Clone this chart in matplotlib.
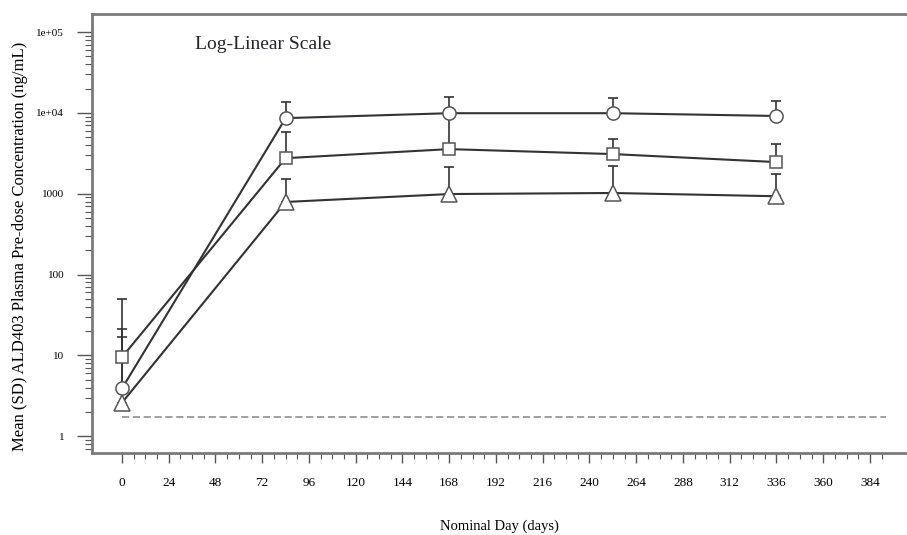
import numpy as np
import matplotlib.pyplot as plt
from matplotlib.ticker import FixedLocator, LogLocator, NullFormatter

plt.rcParams['font.family'] = ['Liberation Serif', 'DejaVu Serif']

# nominal days
days = np.array([0, 84, 168, 252, 336])

# mean concentrations (ng/mL) and upper SD limits
circle_mean = np.array([3.9, 8600, 9900, 9900, 9150])
circle_upper = np.array([21, 13600, 15700, 15200, 14100])
square_mean = np.array([9.5, 2750, 3560, 3090, 2460])
square_upper = np.array([50, 5800, 9300, 4760, 4100])
triangle_mean = np.array([2.6, 790, 990, 1020, 930])
triangle_upper = np.array([16.7, 1520, 2140, 2200, 1740])

lloq = 1.75
lloq_days = [0, 392]

ytick_vals = [1, 10, 100, 1000, 1e4, 1e5]
ytick_labels = ['1', '10', '100', '1000', '1e+04', '1e+05']
xtick_vals = np.arange(0, 385, 24)

fig = plt.figure(figsize=(9.07, 5.35), dpi=100)
ax = fig.add_axes([92 / 907, 82 / 535, 815 / 907, 439 / 535])

line_col = '#333333'
series = [
    (circle_mean, circle_upper, 'o', 9.5),
    (square_mean, square_upper, 's', 8.5),
    (triangle_mean, triangle_upper, '^', 11),
]
for mean, upper, mk, ms in series:
    ax.errorbar(days, mean, yerr=[np.zeros_like(mean), upper - mean],
                fmt='-', color=line_col, lw=1.5, elinewidth=1.2,
                capsize=3.5, capthick=1.2, zorder=2)
    ax.plot(days, mean, linestyle='none', marker=mk, ms=ms,
            mfc='white', mec='#555555', mew=1.1, zorder=3)

ax.plot(lloq_days, [lloq, lloq], linestyle=(0, (4, 2)), color='#999999', lw=1.3, zorder=1)

ax.set_yscale('log')
ax.set_xlim(-15.4, 403)
ax.set_ylim(0.62, 1.67e5)

ax.yaxis.set_major_locator(FixedLocator(ytick_vals))
ax.set_yticklabels(ytick_labels)
ax.yaxis.set_minor_locator(LogLocator(base=10, subs=np.arange(2, 10)))
ax.yaxis.set_minor_formatter(NullFormatter())

ax.xaxis.set_major_locator(FixedLocator(xtick_vals))
ax.set_xticklabels([str(v) for v in xtick_vals])
ax.xaxis.set_minor_locator(FixedLocator(np.arange(0, 391, 6)))

ax.tick_params(axis='y', which='major', length=11, width=1, color='#555555',
               labelsize=8, pad=9)
ax.tick_params(axis='y', which='minor', length=5, width=0.8, color='#555555')
ax.tick_params(axis='x', which='major', length=7, width=1, color='#555555',
               labelsize=9.5, pad=10)
ax.tick_params(axis='x', which='minor', length=4, width=0.8, color='#555555')

for side in ['left', 'bottom', 'top']:
    ax.spines[side].set_color('#7a7a7a')
    ax.spines[side].set_linewidth(2)
ax.spines['right'].set_visible(False)

ax.set_xlabel('Nominal Day (days)', fontsize=10.5, labelpad=22)
ax.set_ylabel('Mean (SD) ALD403 Plasma Pre-dose Concentration (ng/mL)', fontsize=12)
ax.yaxis.set_label_coords(-0.079, 0.47)

ax.text(0.126, 0.93, 'Log-Linear Scale', transform=ax.transAxes,
        fontsize=14, color='#222233', va='center', ha='left')

fig.savefig('out.png', dpi=100)
